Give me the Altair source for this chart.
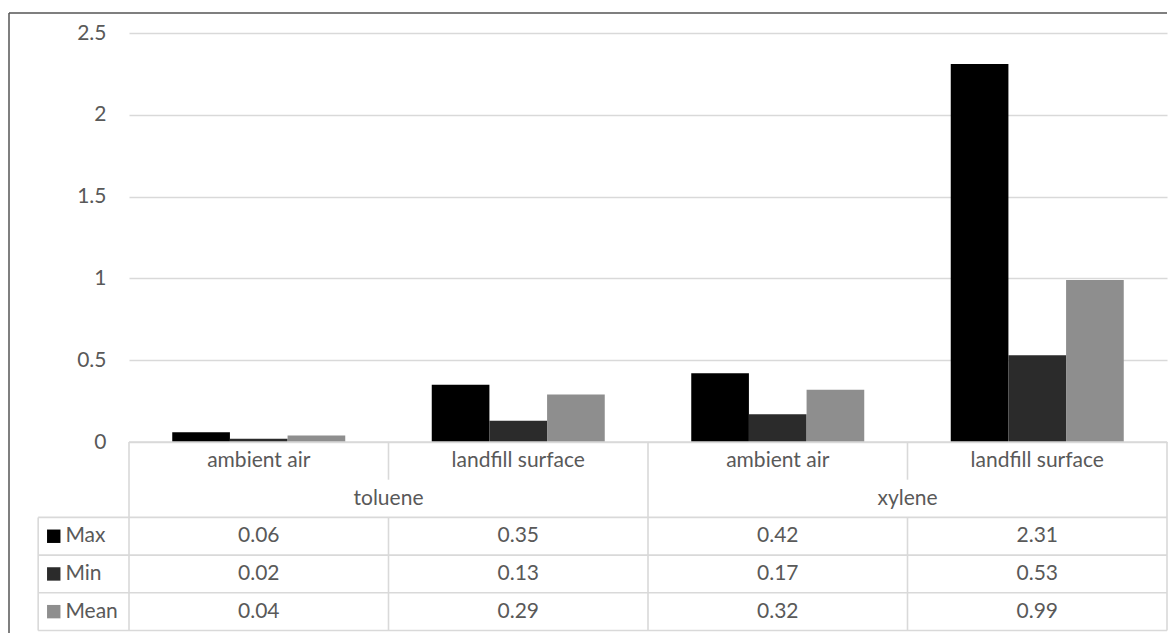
import altair as alt
import pandas as pd

# ---------------- data ----------------
categories = ["ambient air", "landfill surface", "ambient air", "landfill surface"]
compounds = ["toluene", "toluene", "xylene", "xylene"]
series_names = ["Max", "Min", "Mean"]
max_values = [0.06, 0.35, 0.42, 2.31]
min_values = [0.02, 0.13, 0.17, 0.53]
mean_values = [0.04, 0.29, 0.32, 0.99]
y_ticks = [0, 0.5, 1, 1.5, 2, 2.5]

series_values = {"Max": max_values, "Min": min_values, "Mean": mean_values}
series_colors = ["#000000", "#2b2b2b", "#8e8e8e"]

# ---------------- style / layout ----------------
FONT = "Lato"
FONT_SIZE = 21
TEXT_COLOR = "#595959"
LINE_COLOR = "#d9d9d9"
LINE_W = 1.6
W = 1038          # plot area width
H = 409           # plot area height
ROW_H = 37.7      # data-table row height
N_COLS = len(categories)
N_ROWS = 2 + len(series_names)
LEGEND_W = 0.35   # legend column width, in column units

keys = [f"{c}|{a}" for a, c in zip(categories, compounds)]

bars_df = pd.DataFrame([
    {"key": keys[i], "series": s, "value": series_values[s][i],
     "col": i + 0.5, "row": 2 + j + 0.5}
    for j, s in enumerate(series_names) for i in range(N_COLS)
])

color_scale = alt.Scale(domain=series_names, range=series_colors)

bars = alt.Chart(bars_df).mark_bar().encode(
    x=alt.X("key:N", sort=keys, axis=None,
            scale=alt.Scale(paddingInner=1 / 3, paddingOuter=1 / 6)),
    xOffset=alt.XOffset("series:N", sort=series_names,
                        scale=alt.Scale(paddingInner=0, paddingOuter=0)),
    y=alt.Y("value:Q",
            scale=alt.Scale(domain=[0, 2.5], nice=False),
            axis=alt.Axis(values=y_ticks, format="~g", title=None,
                          domain=False, ticks=False, grid=True,
                          gridColor=LINE_COLOR, gridWidth=LINE_W,
                          labelPadding=23, labelFont=FONT,
                          labelFontSize=FONT_SIZE, labelColor=TEXT_COLOR)),
    color=alt.Color("series:N", scale=color_scale, legend=None),
)

# ---------------- data table ----------------
tx = alt.Scale(domain=[0, N_COLS], nice=False, zero=False)
ty = alt.Scale(domain=[0, N_ROWS], range=[H, H + N_ROWS * ROW_H],
               nice=False, zero=False)

lines = [dict(x=0, x2=N_COLS, y=0, y2=0)]
for r in range(2, N_ROWS + 1):
    lines.append(dict(x=-LEGEND_W, x2=N_COLS, y=r, y2=r))
lines.append(dict(x=-LEGEND_W, x2=-LEGEND_W, y=2, y2=N_ROWS))
for c in range(N_COLS + 1):
    group_edge = c == 0 or c == N_COLS or compounds[c - 1] != compounds[c]
    if group_edge:
        lines.append(dict(x=c, x2=c, y=0, y2=N_ROWS))
    else:
        lines.append(dict(x=c, x2=c, y=0, y2=1))
        lines.append(dict(x=c, x2=c, y=2, y2=N_ROWS))
lines_df = pd.DataFrame(lines)

grid = alt.Chart(lines_df).mark_rule(color=LINE_COLOR, strokeWidth=LINE_W).encode(
    x=alt.X("x:Q", scale=tx, axis=None),
    x2="x2:Q",
    y=alt.Y("y:Q", scale=ty, axis=None),
    y2="y2:Q",
)

cat_df = pd.DataFrame({"label": categories,
                       "col": [i + 0.5 for i in range(N_COLS)],
                       "row": [0.5] * N_COLS})
groups = list(dict.fromkeys(compounds))
grp_df = pd.DataFrame({
    "label": groups,
    "col": [sum(i + 0.5 for i, c in enumerate(compounds) if c == g) /
            compounds.count(g) for g in groups],
    "row": [1.5] * len(groups),
})
label_df = pd.concat([cat_df, grp_df], ignore_index=True)

text_kw = dict(font=FONT, fontSize=FONT_SIZE, color=TEXT_COLOR, baseline="middle")

labels = alt.Chart(label_df).mark_text(align="center", **text_kw).encode(
    x=alt.X("col:Q", scale=tx, axis=None),
    y=alt.Y("row:Q", scale=ty, axis=None),
    text="label:N",
)

values = alt.Chart(bars_df).mark_text(align="center", **text_kw).encode(
    x=alt.X("col:Q", scale=tx, axis=None),
    y=alt.Y("row:Q", scale=ty, axis=None),
    text=alt.Text("value:Q", format=".2f"),
)

legend_df = pd.DataFrame({"series": series_names,
                          "row": [2 + j + 0.5 for j in range(len(series_names))],
                          "sq": [-LEGEND_W + 0.06] * len(series_names),
                          "tx": [-LEGEND_W + 0.105] * len(series_names)})

squares = alt.Chart(legend_df).mark_square(size=180, opacity=1).encode(
    x=alt.X("sq:Q", scale=tx, axis=None),
    y=alt.Y("row:Q", scale=ty, axis=None),
    color=alt.Color("series:N", scale=color_scale, legend=None),
)

legend_text = alt.Chart(legend_df).mark_text(align="left", **text_kw).encode(
    x=alt.X("tx:Q", scale=tx, axis=None),
    y=alt.Y("row:Q", scale=ty, axis=None),
    text="series:N",
)

table = alt.layer(grid, labels, values, squares, legend_text)

# ---------------- chart frame (top and left edges) ----------------
frame_src = pd.DataFrame({"edge": ["top", "left"]})
frame_top = alt.Chart(frame_src).transform_filter("datum.edge == 'top'").mark_rule(
    color="#555555", strokeWidth=1.5
).encode(x=alt.value(-120), x2=alt.value(W), y=alt.value(-20))
frame_left = alt.Chart(frame_src).transform_filter("datum.edge == 'left'").mark_rule(
    color="#555555", strokeWidth=1.5
).encode(x=alt.value(-120), y=alt.value(-20), y2=alt.value(H + N_ROWS * ROW_H + 8))
frame = alt.layer(frame_top, frame_left)

chart = alt.layer(bars, table, frame).resolve_scale(
    x="independent", y="independent", color="shared"
).properties(
    width=W, height=H,
    padding={"left": 0, "top": 4, "right": 0, "bottom": 0},
    background="white",
).configure_view(stroke=None)

chart.save("out.html", embed_options={"renderer": "svg", "actions": False})
